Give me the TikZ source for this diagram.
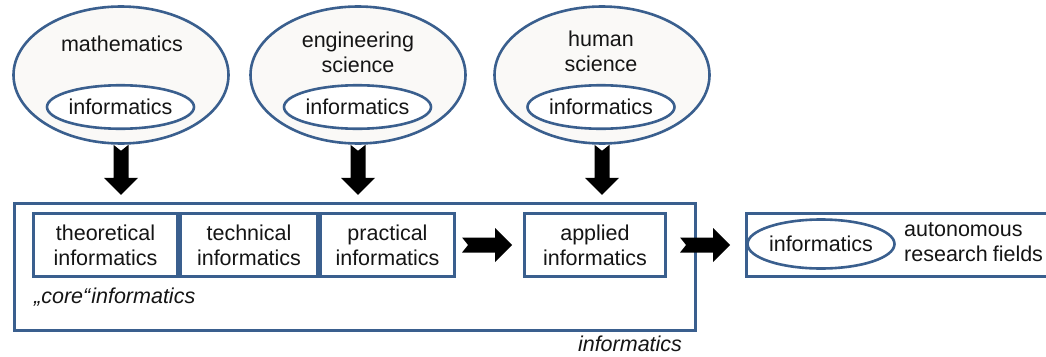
\documentclass[tikz,border=0pt]{standalone}
\usepackage{fontspec}
\setmainfont{Liberation Sans}
\usetikzlibrary{shapes.geometric}
\definecolor{edge}{HTML}{3A5F8E}
\definecolor{shade}{HTML}{FAF9F7}
\definecolor{ink}{HTML}{151515}
\tikzset{
  every node/.style={font=\fontsize{21.5}{25}\selectfont, text=ink, align=center, inner sep=0pt},
  field/.style={ellipse, draw=edge, line width=2.6pt, fill=shade, minimum width=215pt, minimum height=137pt},
  core/.style={ellipse, draw=edge, line width=2.6pt, fill=white, minimum height=43.5pt},
  area/.style={rectangle, draw=edge, line width=2.6pt, fill=white, minimum height=63.5pt},
  pics/bigarrow/.style={code={
    \fill[black] (0,7.5) -- (33,7.5) -- (33,17) -- (50,0) -- (33,-17)
      -- (33,-7.5) -- (0,-7.5) -- (6,0) -- cycle;}}
}
\begin{document}
\begin{tikzpicture}[x=1pt, y=-1pt]
\useasboundingbox[fill=white] (0,0) rectangle (1046,356);

% the three parent sciences
\node[field] (m) at (121,75) {};
\node[field] (e) at (358,75) {};
\node[field] (h) at (602,75) {};
\node (mt) at (122,44) {mathematics};
\node (et) at (358,52) {engineering\\science};
\node (ht) at (601,51) {human\\science};
\node[core, minimum width=128pt] (mi) at (120.5,107) {informatics};
\node[core, minimum width=138pt] (ei) at (357.5,107) {informatics};
\node[core, minimum width=141pt] (hi) at (601,107) {informatics};

% informatics as a whole
\node[rectangle, draw=edge, line width=2.6pt, minimum width=681pt, minimum height=127.5pt] (all) at (355,267) {};
\node[font=\fontsize{21.5}{25}\selectfont\itshape] (allt) at (630,344) {informatics};

% core subdivisions
\node[area, minimum width=144.5pt] (theo) at (105.5,245) {theoretical\\informatics};
\node[area, minimum width=137.5pt] (tech) at (249,245) {technical\\informatics};
\node[area, minimum width=134.5pt] (prac) at (387.5,245) {practical\\informatics};
\node[font=\fontsize{21.5}{25}\selectfont\itshape, anchor=west] (coret) at (34,297) {„core“\kern1pt informatics};

\node[area, minimum width=141.5pt] (app) at (595,245) {applied\\informatics};

% autonomous research fields
\node[area, minimum width=316pt, anchor=west] (auto) at (745.3,245) {};
\node[core, minimum width=140pt, minimum height=49pt] (ai) at (821,244) {informatics};
\node[anchor=west, align=left] (at) at (904,242.5) {autonomous\\research\kern-1pt\ fields};

% block arrows
\pic[rotate=-90] at (m.south) {bigarrow};
\pic[rotate=-90] at (e.south) {bigarrow};
\pic[rotate=-90] at (h.south) {bigarrow};
\pic at ([xshift=6pt]prac.east) {bigarrow};
\pic at ([xshift=13pt]app.east) {bigarrow};
\end{tikzpicture}
\end{document}
